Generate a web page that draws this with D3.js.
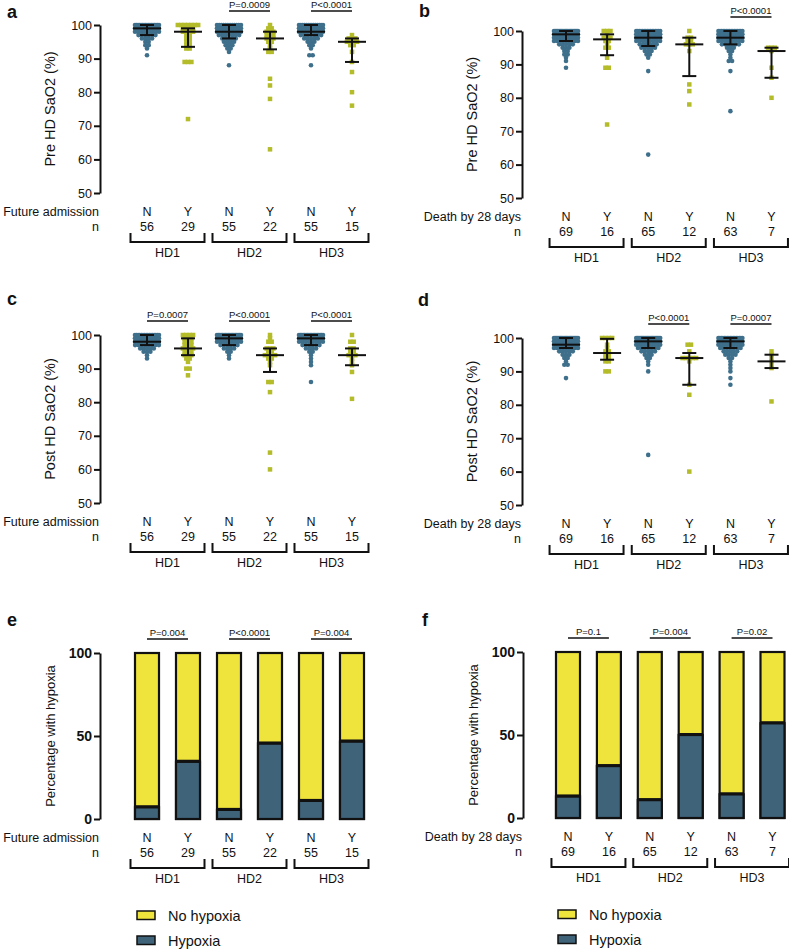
<!DOCTYPE html>
<html>
<head>
<meta charset="utf-8">
<script src="https://cdn.jsdelivr.net/npm/d3@7"></script>
<style>
  body { margin: 0; background: #fff; }
  text { font-family: "Liberation Sans", Arial, sans-serif; fill: #111; }
</style>
</head>
<body>
<svg id="fig" width="789" height="950"></svg>
<script>
// ---- data ----
const groups = ["HD1", "HD2", "HD3"];
const colLabels = ["N", "Y", "N", "Y", "N", "Y"];
const nAdmission = [56, 29, 55, 22, 55, 15];
const nDeath = [69, 16, 65, 12, 63, 7];
const yTicksSat = [50, 60, 70, 80, 90, 100];
const yTicksPct = [0, 50, 100];

// SaO2 values per column as [value, count]
const preAdmission = [
  [[100,17],[99,14],[98,9],[97,6],[96,4],[95,2],[94,2],[93,1],[91,1]],
  [[100,7],[99,4],[98,4],[97,2],[96,2],[95,2],[94,2],[93,2],[89,3],[72,1]],
  [[100,12],[99,10],[98,10],[97,7],[96,5],[95,4],[94,3],[93,2],[92,1],[88,1]],
  [[100,1],[99,2],[98,3],[97,3],[96,3],[95,2],[94,1],[93,1],[92,2],[84,1],[82,1],[78,1],[63,1]],
  [[100,14],[99,11],[98,9],[97,7],[96,5],[95,3],[94,2],[93,1],[91,2],[88,1]],
  [[97,1],[96,3],[95,4],[94,2],[92,1],[89,1],[86,1],[80,1],[76,1]]
];
const preDeath = [
  [[100,20],[99,15],[98,10],[97,9],[96,5],[95,3],[94,2],[93,2],[92,1],[91,1],[89,1]],
  [[100,3],[99,1],[98,3],[97,2],[96,1],[95,2],[92,1],[89,2],[72,1]],
  [[100,16],[99,12],[98,10],[97,8],[96,6],[95,5],[94,3],[93,2],[92,1],[88,1],[63,1]],
  [[100,1],[98,2],[97,2],[96,3],[94,1],[84,1],[82,1],[78,1]],
  [[100,16],[99,12],[98,10],[97,8],[96,6],[95,3],[94,2],[93,1],[92,1],[91,2],[88,1],[76,1]],
  [[95,3],[94,1],[89,1],[86,1],[80,1]]
];
const postAdmission = [
  [[100,16],[99,12],[98,10],[97,8],[96,5],[95,3],[94,1],[93,1]],
  [[100,4],[99,3],[98,3],[97,3],[96,4],[95,3],[94,3],[93,2],[92,1],[90,2],[88,1]],
  [[100,18],[99,14],[98,9],[97,6],[96,4],[95,2],[94,1],[93,1]],
  [[100,1],[99,1],[98,2],[96,3],[95,2],[94,4],[93,2],[92,1],[91,1],[86,2],[83,1],[65,1],[60,1]],
  [[100,18],[99,12],[98,8],[97,6],[96,4],[95,2],[94,1],[93,1],[92,1],[91,1],[86,1]],
  [[100,1],[98,2],[96,2],[95,2],[94,3],[93,1],[92,1],[91,1],[89,1],[81,1]]
];
const postDeath = [
  [[100,20],[99,15],[98,11],[97,9],[96,5],[95,3],[94,2],[93,1],[92,2],[88,1]],
  [[100,4],[98,1],[97,1],[96,2],[95,2],[94,2],[93,2],[90,2]],
  [[100,20],[99,14],[98,10],[97,7],[96,5],[95,3],[94,2],[93,1],[92,1],[90,1],[65,1]],
  [[98,2],[96,1],[94,5],[93,1],[86,1],[83,1],[60,1]],
  [[100,17],[99,13],[98,9],[97,7],[96,5],[95,4],[94,2],[93,1],[92,1],[91,1],[90,1],[88,1],[86,1]],
  [[96,1],[95,1],[94,1],[93,1],[92,1],[91,1],[81,1]]
];

// median and interquartile range per column
const preAdmMed = [99, 98, 98, 96, 98, 95];
const preAdmQ1  = [97, 93.5, 96, 92.75, 97, 89];
const preAdmQ3  = [100, 99, 100, 98, 100, 96];
const preDeathMed = [99, 97.5, 98, 96, 98, 94];
const preDeathQ1  = [97, 92.75, 95.5, 86.5, 96, 86];
const preDeathQ3  = [100, 99, 100, 98, 100, 95];
const postAdmMed = [98, 96, 99, 94, 99, 94];
const postAdmQ1  = [97, 94, 97, 89, 97, 91];
const postAdmQ3  = [100, 99, 100, 96, 100, 96];
const postDeathMed = [98, 95.5, 99, 94, 99, 93];
const postDeathQ1  = [97, 93.5, 97, 86, 97, 91];
const postDeathQ3  = [100, 99.75, 100, 95.5, 100, 95];

// percentage with hypoxia
const hypoxAdmission = [7.1, 34.5, 5.5, 45.5, 10.9, 46.7];
const hypoxDeath = [13.0, 31.3, 10.8, 50.0, 14.3, 57.1];

const pPreAdm = [null, "P=0.0009", "P<0.0001"];
const pPreDeath = [null, null, "P<0.0001"];
const pPostAdm = ["P=0.0007", "P<0.0001", "P<0.0001"];
const pPostDeath = [null, "P<0.0001", "P=0.0007"];
const pHypAdm = ["P=0.004", "P<0.0001", "P=0.004"];
const pHypDeath = ["P=0.1", "P=0.004", "P=0.02"];

const legendItems = ["No hypoxia", "Hypoxia"];

// ---- styles ----
const blue = "#3e6f8b", olive = "#b5bc2a";
const barYellow = "#efe43b", barDark = "#3f6379";
const svg = d3.select("#fig");

function panelLetter(letter, x, y) {
  svg.append("text").attr("x", x).attr("y", y)
    .style("font-size", "18px").style("font-weight", "bold").text(letter);
}

// shared bottom labels (row title, N/Y, n, brackets, HD)
function bottomLabels(x, ax, yb, rowTitle, ns) {
  const g = svg.append("g").style("font-size", "12.5px");
  g.append("text").attr("x", ax - 1).attr("y", yb + 23).attr("text-anchor", "end").text(rowTitle);
  g.append("text").attr("x", ax - 1).attr("y", yb + 37.5).attr("text-anchor", "end").text("n");
  colLabels.forEach((c, i) => {
    g.append("text").attr("x", x(i)).attr("y", yb + 23).attr("text-anchor", "middle").text(c);
    g.append("text").attr("x", x(i)).attr("y", yb + 37.5).attr("text-anchor", "middle").text(ns[i]);
  });
  groups.forEach((hd, k) => {
    const cx = (x(2 * k) + x(2 * k + 1)) / 2;
    g.append("path")
      .attr("d", `M${cx - 37},${yb + 40}V${yb + 49}H${cx + 37}V${yb + 40}`)
      .attr("fill", "none").attr("stroke", "#111").attr("stroke-width", 2);
    g.append("text").attr("x", cx).attr("y", yb + 64).attr("text-anchor", "middle").text(hd);
  });
}

function pValues(x, ytop, ps) {
  ps.forEach((p, k) => {
    if (!p) return;
    const x1 = x(2 * k), x2 = x(2 * k + 1), yl = ytop - 14;
    svg.append("line").attr("x1", x1).attr("x2", x2).attr("y1", yl).attr("y2", yl)
      .attr("stroke", "#111").attr("stroke-width", 1.5);
    svg.append("text").attr("x", (x1 + x2) / 2).attr("y", yl - 3)
      .attr("text-anchor", "middle").style("font-size", "9.5px").text(p);
  });
}

function drawScatter(p) {
  const y = d3.scaleLinear().domain([50, 100]).range([p.yb, p.yt]);
  const x = d3.scalePoint().domain(d3.range(6)).range([p.x0, p.x0 + 5 * p.step]);

  const ax = svg.append("g").attr("transform", `translate(${p.ax},0)`)
    .call(d3.axisLeft(y).tickValues(yTicksSat).tickSize(6).tickSizeOuter(0));
  ax.select(".domain").attr("stroke", "#111").attr("stroke-width", 2);
  ax.selectAll(".tick line").attr("stroke", "#111").attr("stroke-width", 2);
  ax.selectAll(".tick text").attr("x", -8).style("font-size", "12.5px")
    .style("font-family", "Liberation Sans, Arial, sans-serif").attr("fill", "#111");

  svg.append("text")
    .attr("transform", `translate(${p.ax - 45},${(p.yt + p.yb) / 2}) rotate(-90)`)
    .attr("text-anchor", "middle").style("font-size", "14.5px").text(p.title);

  // points, spread sideways when values repeat
  const pts = [];
  p.dist.forEach((col, i) => {
    col.forEach(([v, c]) => {
      const sp = c > 1 ? Math.min(3.4, 24 / (c - 1)) : 0;
      for (let k = 0; k < c; k++) pts.push({ i, v, dx: (k - (c - 1) / 2) * sp });
    });
  });
  svg.append("g").selectAll("circle")
    .data(pts.filter(d => d.i % 2 === 0)).join("circle")
    .attr("cx", d => x(d.i) + d.dx).attr("cy", d => y(d.v)).attr("r", 2.3)
    .attr("fill", blue);
  svg.append("g").selectAll("rect")
    .data(pts.filter(d => d.i % 2 === 1)).join("rect")
    .attr("x", d => x(d.i) + d.dx - 2.25).attr("y", d => y(d.v) - 2.25)
    .attr("width", 4.5).attr("height", 4.5).attr("fill", olive);

  // median + IQR
  const eb = svg.append("g").attr("stroke", "#111").attr("stroke-width", 2);
  d3.range(6).forEach(i => {
    const cx = x(i);
    eb.append("line").attr("x1", cx).attr("x2", cx).attr("y1", y(p.q1[i])).attr("y2", y(p.q3[i]));
    eb.append("line").attr("x1", cx - 7).attr("x2", cx + 7).attr("y1", y(p.q1[i])).attr("y2", y(p.q1[i]));
    eb.append("line").attr("x1", cx - 7).attr("x2", cx + 7).attr("y1", y(p.q3[i])).attr("y2", y(p.q3[i]));
    eb.append("line").attr("x1", cx - 14).attr("x2", cx + 14).attr("y1", y(p.med[i])).attr("y2", y(p.med[i]));
  });

  pValues(x, p.yt, p.pv);
  bottomLabels(x, p.ax, p.yb, p.rowTitle, p.ns);
}

function drawBars(p) {
  const y = d3.scaleLinear().domain([0, 100]).range([p.yb, p.yt]);
  const x = d3.scalePoint().domain(d3.range(6)).range([p.x0, p.x0 + 5 * p.step]);

  const ax = svg.append("g").attr("transform", `translate(${p.ax},0)`)
    .call(d3.axisLeft(y).tickValues(yTicksPct).tickSize(6).tickSizeOuter(0));
  ax.select(".domain").attr("stroke", "#111").attr("stroke-width", 2);
  ax.selectAll(".tick line").attr("stroke", "#111").attr("stroke-width", 2);
  ax.selectAll(".tick text").attr("x", -8).style("font-size", "14px").style("font-weight", "bold")
    .style("font-family", "Liberation Sans, Arial, sans-serif").attr("fill", "#111");

  svg.append("text")
    .attr("transform", `translate(${p.ax - 45},${(p.yt + p.yb) / 2}) rotate(-90)`)
    .attr("text-anchor", "middle").style("font-size", "13px").text("Percentage with hypoxia");

  const bw = 24;
  const bars = svg.append("g").attr("stroke", "#111").attr("stroke-width", 2.2);
  bars.selectAll("rect.no").data(p.hyp).join("rect").attr("class", "no")
    .attr("x", (d, i) => x(i) - bw / 2).attr("y", y(100))
    .attr("width", bw).attr("height", y(0) - y(100)).attr("fill", barYellow);
  bars.selectAll("rect.yes").data(p.hyp).join("rect").attr("class", "yes")
    .attr("x", (d, i) => x(i) - bw / 2).attr("y", d => y(d))
    .attr("width", bw).attr("height", d => y(0) - y(d)).attr("fill", barDark);
  // thicker divider where the two segments meet
  bars.selectAll("line.div").data(p.hyp).join("line").attr("class", "div")
    .attr("x1", (d, i) => x(i) - bw / 2).attr("x2", (d, i) => x(i) + bw / 2)
    .attr("y1", d => y(d) - 0.5).attr("y2", d => y(d) - 0.5).attr("stroke-width", 3);

  pValues(x, p.yt, p.pv);
  bottomLabels(x, p.ax, p.yb, p.rowTitle, p.ns);

  // legend
  const lg = svg.append("g");
  legendItems.forEach((t, k) => {
    const ly = p.legY + k * 25;
    lg.append("rect").attr("x", p.legX).attr("y", ly).attr("width", 18).attr("height", 8.5)
      .attr("fill", k === 0 ? barYellow : barDark).attr("stroke", "#111").attr("stroke-width", 1.5);
    lg.append("text").attr("x", p.legX + 31).attr("y", ly + 9.5).style("font-size", "14.5px").text(t);
  });
}

drawScatter({ ax: 100, yt: 25, yb: 193, x0: 147, step: 41, dist: preAdmission,
  med: preAdmMed, q1: preAdmQ1, q3: preAdmQ3, pv: pPreAdm, ns: nAdmission,
  rowTitle: "Future admission", title: "Pre HD SaO2 (%)" });
drawScatter({ ax: 522, yt: 31, yb: 198, x0: 566, step: 41.1, dist: preDeath,
  med: preDeathMed, q1: preDeathQ1, q3: preDeathQ3, pv: pPreDeath, ns: nDeath,
  rowTitle: "Death by 28 days", title: "Pre HD SaO2 (%)" });
drawScatter({ ax: 100, yt: 335, yb: 503, x0: 147, step: 41, dist: postAdmission,
  med: postAdmMed, q1: postAdmQ1, q3: postAdmQ3, pv: pPostAdm, ns: nAdmission,
  rowTitle: "Future admission", title: "Post HD SaO2 (%)" });
drawScatter({ ax: 522, yt: 338, yb: 505, x0: 566, step: 41.1, dist: postDeath,
  med: postDeathMed, q1: postDeathQ1, q3: postDeathQ3, pv: pPostDeath, ns: nDeath,
  rowTitle: "Death by 28 days", title: "Post HD SaO2 (%)" });
drawBars({ ax: 100, yt: 653, yb: 819, x0: 147, step: 41, hyp: hypoxAdmission,
  pv: pHypAdm, ns: nAdmission, rowTitle: "Future admission", legX: 137, legY: 911 });
drawBars({ ax: 523, yt: 652, yb: 818, x0: 568, step: 40.9, hyp: hypoxDeath,
  pv: pHypDeath, ns: nDeath, rowTitle: "Death by 28 days", legX: 558, legY: 910 });

panelLetter("a", 7, 18);
panelLetter("b", 419, 17);
panelLetter("c", 7, 305);
panelLetter("d", 418, 306);
panelLetter("e", 7, 626);
panelLetter("f", 422, 626);
</script>
</body>
</html>
